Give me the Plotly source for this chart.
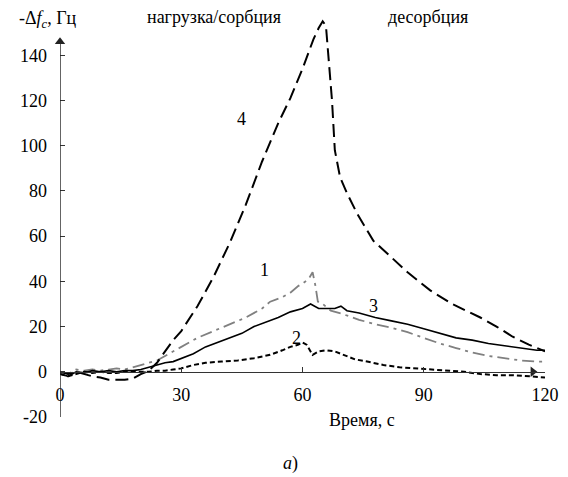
import plotly.graph_objects as go

# Curve 1 (gray dash-dot)
t1 = [0, 2, 4, 6, 8, 10, 12, 14, 16, 18, 20, 22, 24, 26, 28, 30, 34, 38, 42, 46, 50, 52, 55, 57, 59, 60, 61.5, 62.5, 63.2, 63.8, 65, 67, 70, 74, 78, 82, 86, 90, 94, 98, 102, 106, 110, 114, 118, 120]
y1 = [0, -1, 1, 0.5, 1, 0.5, 1, 1.5, 1, 2, 3, 4, 5, 7, 9, 11, 15, 18, 21, 24, 28, 31, 33, 35, 38, 39, 41, 44, 38, 31, 30, 27, 25.5, 23, 21, 19.5, 17.5, 15, 12.5, 10.5, 8.5, 7, 6, 5, 4.5, 4.5]
# Curve 2 (short dash)
t2 = [0, 2, 4, 6, 8, 10, 12, 14, 16, 18, 20, 22, 24, 26, 28, 30, 33, 36, 40, 44, 48, 52, 55, 57, 59, 60, 61, 62.5, 64, 66, 68, 70, 73, 76, 80, 84, 88, 92, 96, 100, 104, 108, 112, 116, 120]
y2 = [-1, -2, -1, 0, -0.5, 0, -0.5, -0.5, 0, 0, 0, 0, 0.5, 0.5, 1, 1.5, 3, 4, 4.5, 5, 6, 7.5, 9.5, 11, 12, 13, 12, 7.5, 9, 9.5, 9, 7.5, 5.5, 4.5, 3, 2, 1.5, 1, 0.5, 0, -1, -1.5, -1.5, -2, -2.5]
# Curve 3 (solid)
t3 = [0, 2, 4, 6, 8, 10, 12, 14, 16, 18, 20, 22, 24, 26, 28, 30, 33, 36, 39, 42, 45, 48, 51, 54, 57, 60, 62, 64, 66, 68, 69.5, 71, 74, 78, 82, 86, 90, 94, 98, 102, 106, 110, 114, 118, 120]
y3 = [-1, -2, 0, -0.5, 0.5, 0, 0.5, 0, 0.5, 0.5, 1, 2, 3, 4, 4.5, 6, 8, 11, 13, 15, 17, 20, 22, 24, 26.5, 28, 30, 28, 28, 28, 29, 27, 26, 24, 22.5, 21, 19, 17, 15, 14, 12.5, 11.5, 10.5, 9.5, 9.5]
# Curve 4 (long dash)
t4 = [0, 2, 4, 6, 8, 10, 12, 14, 16, 18, 20, 22, 24, 26, 28, 30, 34, 38, 42, 46, 50, 54, 57, 60, 62.7, 64, 65, 65.8, 66.3, 67.3, 68, 69.3, 71, 73.5, 77.5, 81.7, 86, 91.6, 97, 104, 108, 112, 116, 120]
y4 = [0, -1, 0, -1, -2, -2.5, -3.5, -3.5, -3.5, -3, -1, 0.5, 4, 9, 14, 18, 29, 42, 57, 74, 93, 110, 121, 134, 147, 152, 155, 153, 142, 120, 98, 86, 79, 70, 58, 51, 44, 36, 30, 24, 20, 15.5, 12, 9]

x_ticks = [0, 30, 60, 90, 120]
y_ticks = [-20, 0, 20, 40, 60, 80, 100, 120, 140]
y_tick_text = ["-20", "0", "20", "40", "60", "80", "100", "120", "140"]

FONT = "Liberation Serif, Times New Roman, serif"

OFF = 8  # page body margin
W, H = 568 - OFF, 477 - OFF
L, R, T, B = 60 - OFF, 23, 10 - OFF, 60
pw, ph = W - L - R, H - T - B

fig = go.Figure()
fig.add_trace(go.Scatter(x=t1, y=y1, mode="lines", line=dict(color="#808080", width=1.8, dash="12px,5px,3px,5px")))
fig.add_trace(go.Scatter(x=t2, y=y2, mode="lines", line=dict(color="black", width=2, dash="5px,3px")))
fig.add_trace(go.Scatter(x=t3, y=y3, mode="lines", line=dict(color="black", width=1.6)))
fig.add_trace(go.Scatter(x=t4, y=y4, mode="lines", line=dict(color="black", width=2, dash="13px,6px")))

# axis arrowheads
fig.add_trace(go.Scatter(x=[0], y=[146], mode="markers", cliponaxis=False,
                         marker=dict(symbol="triangle-up", size=9, color="#222")))
fig.add_trace(go.Scatter(x=[117], y=[0], mode="markers", cliponaxis=False,
                         marker=dict(symbol="triangle-right", size=9, color="#222")))

fig.update_layout(
    width=W, height=H,
    margin=dict(l=L, r=R, t=T, b=B, autoexpand=False),
    paper_bgcolor="white", plot_bgcolor="white",
    showlegend=False,
    font=dict(family=FONT, size=18, color="black"),
    xaxis=dict(range=[0, 120], tickvals=x_ticks, ticks="inside", ticklen=5, tickcolor="#333",
               showline=True, linecolor="#333", linewidth=1.3, showgrid=False, zeroline=False,
               anchor="free", position=20 / 180, ticklabelstandoff=6, automargin=False,
               tickfont=dict(family=FONT, size=18)),
    yaxis=dict(range=[-20, 160], tickvals=y_ticks, ticktext=y_tick_text, ticks="inside", ticklen=5,
               tickcolor="#333", showline=False, showgrid=False, zeroline=False, ticklabelstandoff=12,
               automargin=False, tickfont=dict(family=FONT, size=18)),
)

# y axis line
fig.add_shape(type="line", x0=0, x1=0, y0=-20, y1=145, xref="x", yref="y",
              line=dict(color="#222", width=1.4))

texts = [
    ("-Δ<i>f</i><sub><i>c</i></sub>, Гц", 17, 19, "left"),
    ("нагрузка/сорбция", 214, 17, "center"),
    ("десорбция", 428, 17, "center"),
    ("Время, с", 362, 420, "center"),
    ("<i>а</i>)", 290, 463, "center"),
]
for txt, px, py, al in texts:
    fx, fy = px - OFF, py - OFF
    fig.add_annotation(x=(fx - L) / pw, y=(H - B - fy) / ph, xref="paper", yref="paper", text=txt,
                       showarrow=False, xanchor=al, yanchor="middle", font=dict(family=FONT, size=18))

labels = [("4", 45, 112), ("1", 50.5, 45), ("3", 77.5, 29), ("2", 58.5, 15)]
for txt, lx, ly in labels:
    fig.add_annotation(x=lx, y=ly, xref="x", yref="y", text=txt, showarrow=False,
                       font=dict(family=FONT, size=18))

fig.write_html("out.html")
